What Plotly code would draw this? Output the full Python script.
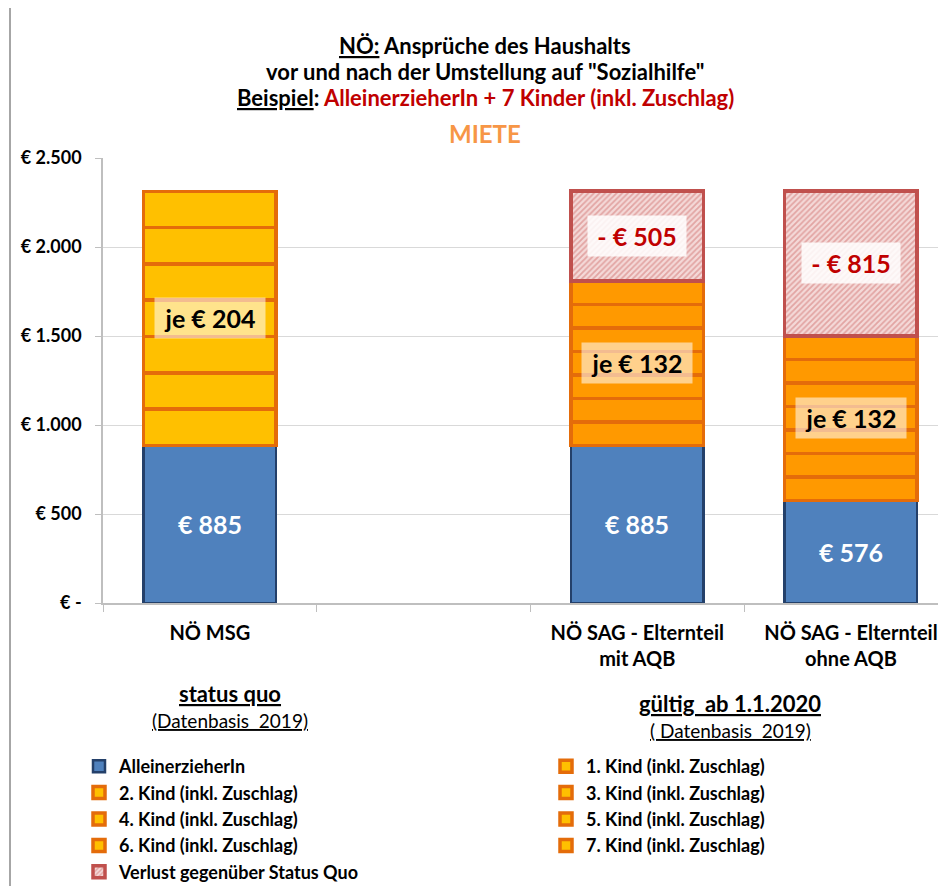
import plotly.graph_objects as go

# ---------------- data ----------------
categories = ["NÖ MSG", " ", "NÖ SAG - Elternteil<br>mit AQB", "NÖ SAG - Elternteil<br>ohne AQB"]
parent_values = [885, None, 885, 576]
kid_values = [204, None, 132, 132]
loss_values = [None, None, 505, 815]
kid_names = [f"{i}. Kind (inkl. Zuschlag)" for i in range(1, 8)]
parent_name = "AlleinerzieherIn"
loss_name = "Verlust gegenüber Status Quo"
y_ticks = [0, 500, 1000, 1500, 2000, 2500]
y_ticktext = ["€ -", "€ 500", "€ 1.000", "€ 1.500", "€ 2.000", "€ 2.500"]
parent_labels = ["€ 885", None, "€ 885", "€ 576"]
kid_labels = ["je € 204", None, "je € 132", "je € 132"]
loss_labels = [None, None, "- € 505", "- € 815"]

# ---------------- style ----------------
FONT = "Lato"
BLUE = "#4F81BD"
BLUE_LINE = "#24406A"
YELLOW = "#FFC000"
ORANGE = "#FF9900"
ORANGE_LINE = "#E46C0A"
RED_LINE = "#C0504D"
BAR_W = 0.62

W, H = 946, 886
OFF = 8  # page body margin: screen = figure + OFF
# plot area in screen pixels
SL, SR, ST, SB = 103, 954, 158, 603
CAT_PX = 213.7


def px(x):
    return (x - SL) / (SR - SL)


def py(y):
    return (SB - y) / (SB - ST)


fig = go.Figure()

fig.add_trace(go.Bar(
    x=categories, y=parent_values, name=parent_name, width=BAR_W, legend="legend",
    marker=dict(color=BLUE, line=dict(color=BLUE_LINE, width=2.5)),
))

kid_colors = [YELLOW, YELLOW, ORANGE, ORANGE]
for k, name in enumerate(kid_names, start=1):
    fig.add_trace(go.Bar(
        x=categories, y=kid_values, name=name, width=BAR_W,
        legend="legend2" if k % 2 == 1 else "legend",
        marker=dict(color=kid_colors, line=dict(color=ORANGE_LINE, width=3.5)),
    ))

fig.add_trace(go.Bar(
    x=categories, y=loss_values, name=loss_name, width=BAR_W, legend="legend",
    marker=dict(color="#EDB8B7", line=dict(color=RED_LINE, width=3.5),
                pattern=dict(shape="/", fgcolor="#D0706E", bgcolor="#F4D9D8",
                             size=4, solidity=0.45)),
))

annotations = []
n = len(kid_names)
for i, cat in enumerate(categories):
    if parent_values[i] is None:
        continue
    base = parent_values[i]
    annotations.append(dict(x=cat, y=base / 2, xref="x", yref="y", text=f"<b>{parent_labels[i]}</b>",
                            showarrow=False, xanchor="center", yanchor="middle",
                            font=dict(family=FONT, size=25, color="white")))
    mid = base + kid_values[i] * (n // 2 + 0.5)
    annotations.append(dict(x=cat, y=mid, xref="x", yref="y", text=f"<b>{kid_labels[i]}</b>",
                            showarrow=False, width=108, height=38, xanchor="center", yanchor="middle",
                            bgcolor="rgba(255,255,255,0.55)",
                            font=dict(family=FONT, size=25, color="black")))
    if loss_values[i]:
        top_kids = base + kid_values[i] * n
        annotations.append(dict(x=cat, y=top_kids + loss_values[i] / 2, xref="x", yref="y",
                                text=f"<b>{loss_labels[i]}</b>", showarrow=False, width=96, height=38,
                                xanchor="center", yanchor="middle",
                                bgcolor="rgba(255,255,255,0.85)",
                                font=dict(family=FONT, size=25, color="#C00000")))

# titles
title_lines = [
    ("<b><u>NÖ:</u> Ansprüche des Haushalts</b>", 45, "black", 22),
    ("<b>vor und nach der Umstellung auf \"Sozialhilfe\"</b>", 71.5, "black", 22),
    ("<b><u>Beispiel</u>: <span style='color:#C00000'>AlleinerzieherIn + 7 Kinder (inkl. Zuschlag)</span></b>", 98, "black", 22),
    ("<b>MIETE</b>", 133, "#F79646", 24),
]
for txt, yp, col, fs in title_lines:
    annotations.append(dict(x=px(485), y=py(yp), xref="paper", yref="paper", text=txt, showarrow=False,
                            xanchor="center", yanchor="middle",
                            font=dict(family=FONT, size=fs, color=col)))

# group captions
captions = [
    ("<b><u>status quo</u></b>", 230, 693, 22),
    ("<u>(Datenbasis  2019)</u>", 230, 720, 19),
    ("<b><u>gültig  ab 1.1.2020</u></b>", 730, 703, 22),
    ("<u>( Datenbasis  2019)</u>", 730, 730, 19),
]
for txt, xp, yp, fs in captions:
    annotations.append(dict(x=px(xp), y=py(yp), xref="paper", yref="paper", text=txt, showarrow=False,
                            xanchor="center", yanchor="middle",
                            font=dict(family=FONT, size=fs, color="black")))

legend_font = dict(family=FONT, size=18, color="black", weight="bold")
fig.update_layout(
    width=W, height=H,
    margin=dict(l=SL - OFF, r=W - (SR - OFF), t=ST - OFF, b=H - (SB - OFF), pad=0, autoexpand=False),
    barmode="stack",
    plot_bgcolor="white", paper_bgcolor="white",
    font=dict(family=FONT, size=17, color="black"),
    showlegend=True,
    legend=dict(orientation="v", x=px(79), y=py(748), xanchor="left", yanchor="top",
                traceorder="normal", tracegroupgap=0, font=legend_font, bgcolor="rgba(0,0,0,0)"),
    legend2=dict(orientation="v", x=px(546), y=py(748), xanchor="left", yanchor="top",
                 traceorder="normal", tracegroupgap=0, font=legend_font, bgcolor="rgba(0,0,0,0)"),
    annotations=annotations,
    shapes=[dict(type="rect", xref="paper", yref="paper", x0=px(10), x1=px(990), y0=py(960), y1=py(7),
                 line=dict(color="#A6A6A6", width=2), fillcolor="rgba(0,0,0,0)", layer="below")],
)

fig.update_xaxes(
    type="category", categoryorder="array", categoryarray=categories,
    range=[-0.5, -0.5 + (SR - SL) / CAT_PX],
    showline=True, linecolor="#BFBFBF", linewidth=1.5,
    ticks="outside", tickson="boundaries", ticklen=7, tickcolor="#BFBFBF",
    showgrid=False, tickfont=dict(family=FONT, size=20, color="black", weight="bold"),
    ticklabelstandoff=11,
)
fig.update_yaxes(
    range=[0, 2500], tickvals=y_ticks, ticktext=y_ticktext,
    showline=True, linecolor="#BFBFBF", linewidth=1.5,
    ticks="outside", ticklen=6, tickcolor="#BFBFBF",
    showgrid=True, gridcolor="#D9D9D9", gridwidth=1.2, zeroline=False,
    tickfont=dict(family=FONT, size=18, color="black", weight="bold"),
    ticklabelstandoff=10,
)

fig.write_html("out.html")
